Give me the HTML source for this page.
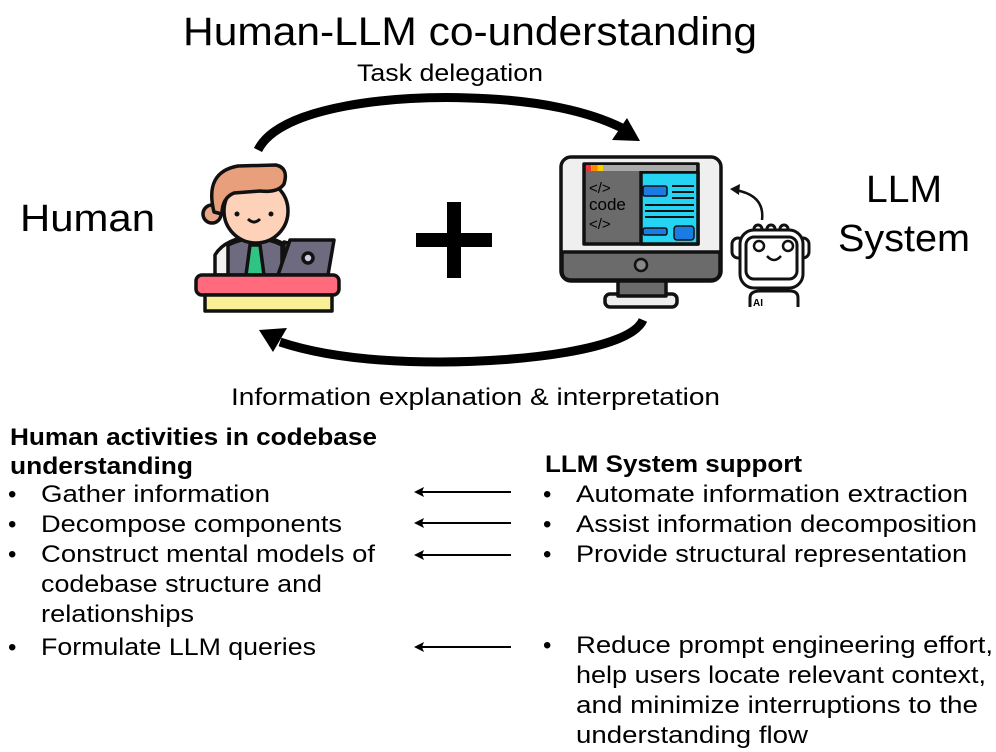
<!DOCTYPE html>
<html><head><meta charset="utf-8"><style>
html,body{margin:0;padding:0;background:#fff;width:996px;height:752px;overflow:hidden}
svg{display:block}
text{font-family:"Liberation Sans",sans-serif;fill:#000}
.b{font-weight:bold}
</style></head><body>
<svg width="996" height="752" viewBox="0 0 996 752" xmlns="http://www.w3.org/2000/svg">
<!-- titles -->
<text x="183" y="45" font-size="40" textLength="574" lengthAdjust="spacingAndGlyphs">Human-LLM co-understanding</text>
<text x="357" y="81" font-size="24" textLength="186" lengthAdjust="spacingAndGlyphs">Task delegation</text>
<text x="20" y="231" font-size="38" textLength="135" lengthAdjust="spacingAndGlyphs">Human</text>
<text x="866" y="202" font-size="38" textLength="76" lengthAdjust="spacingAndGlyphs">LLM</text>
<text x="838" y="251" font-size="38" textLength="132" lengthAdjust="spacingAndGlyphs">System</text>
<text x="231" y="405" font-size="24" textLength="489" lengthAdjust="spacingAndGlyphs">Information explanation &amp; interpretation</text>

<!-- curved arrows -->
<path d="M258,150 C280,105 400,95 470,98 C540,100 590,112 622,128" fill="none" stroke="#000" stroke-width="9"/>
<path d="M640,141 L612,140 L627,118 Z" fill="#000"/>
<path d="M643,320 C630,350 520,362 440,362 C360,362 310,352 280,342" fill="none" stroke="#000" stroke-width="9"/>
<path d="M259,330 L287,328 L273,352 Z" fill="#000"/>

<!-- plus -->
<rect x="416" y="233" width="76" height="14" fill="#000"/>
<rect x="447" y="202" width="14" height="76" fill="#000"/>

<!-- person -->
<g stroke="#111" stroke-width="3.5" stroke-linejoin="round">
<path d="M215,275 L215,255 Q225,238 255,236 Q285,238 293,255 L293,275 Z" fill="#f2f2f2"/>
<path d="M228,275 L228,245 Q255,232 282,245 L282,275 Z" fill="#6e6a80"/>
<path d="M250,245 L260,245 L264,275 L246,275 Z" fill="#2fc483"/>
<circle cx="212" cy="214" r="9" fill="#e8a98a"/>
<circle cx="256" cy="211" r="32" fill="#fdd2b8"/>
<path d="M214,212 Q204,172 238,166 L276,165 Q289,168 284,184 Q278,193 260,191 L234,193 Q222,198 222,214 Z" fill="#e8a07c"/>
<path d="M284,242 L292,244 L290,275 L282,275 Z" fill="#6e6a80"/>
<path d="M290,240 L334,240 L328,275 L278,275 Z" fill="#6e6a80"/>
<circle cx="308" cy="258" r="5" fill="#cfcbe0"/>
<rect x="196" y="275" width="143" height="20" rx="6" fill="#ff6b7d"/>
<rect x="205" y="295" width="127" height="16" fill="#f8ef96"/>
</g>
<circle cx="237" cy="214" r="2.5" fill="#111"/><circle cx="271" cy="214" r="2.5" fill="#111"/>
<path d="M248,219 Q254,225 260,219" fill="none" stroke="#111" stroke-width="3"/>

<!-- monitor -->
<g stroke="#111" stroke-width="3.5" stroke-linejoin="round">
<rect x="605" y="294" width="72" height="13" rx="5" fill="#eee"/>
<rect x="618" y="278" width="48" height="18" fill="#6b6b6b"/>
<rect x="561" y="157" width="160" height="124" rx="10" fill="#efefef"/>
<path d="M562,252 L720,252 L720,271 Q720,280 711,280 L571,280 Q562,280 562,271 Z" fill="#6b6b6b"/>
<rect x="584" y="164" width="114" height="80" fill="#6b6b6b"/>
<rect x="641" y="172" width="57" height="72" fill="#25d3f2"/>
</g>
<rect x="586" y="165" width="110" height="6" fill="#aaa"/>
<rect x="586" y="165" width="5" height="6" fill="#e33"/><rect x="592" y="165" width="5" height="6" fill="#f80"/><rect x="598" y="165" width="5" height="6" fill="#fc0"/>
<circle cx="641" cy="265" r="6" fill="#888" stroke="#111" stroke-width="2.5"/>
<text x="589" y="193" font-size="15" fill="#111">&lt;/&gt;</text>
<text x="589" y="210" font-size="17" fill="#111">code</text>
<text x="589" y="229" font-size="15" fill="#111">&lt;/&gt;</text>
<g fill="#1a7be0" stroke="#111" stroke-width="1.5">
<rect x="643" y="186" width="24" height="10" rx="2"/>
<rect x="674" y="226" width="20" height="14" rx="3"/>
<rect x="643" y="228" width="24" height="7" rx="2"/>
</g>
<g stroke="#111" stroke-width="2">
<line x1="672" y1="186" x2="694" y2="186"/><line x1="672" y1="192" x2="694" y2="192"/><line x1="672" y1="198" x2="694" y2="198"/>
<line x1="645" y1="205" x2="694" y2="205"/><line x1="645" y1="211" x2="694" y2="211"/><line x1="645" y1="217" x2="694" y2="217"/>
</g>

<!-- robot -->
<path d="M762,220 Q765,195 735,190" fill="none" stroke="#111" stroke-width="2.5"/>
<path d="M730,189 L740,184 L739,195 Z" fill="#111"/>
<g stroke="#111" stroke-width="3" fill="#fff">
<circle cx="758" cy="229" r="4"/><circle cx="771" cy="229" r="4"/><circle cx="784" cy="229" r="4"/>
<path d="M750,307 L750,298 Q750,291 760,291 L790,291 Q798,291 798,298 L798,307"/>
<rect x="732" y="238" width="12" height="20" rx="6"/>
<rect x="797" y="238" width="12" height="20" rx="6"/>
<rect x="740" y="230" width="63" height="58" rx="14"/>
<rect x="746" y="237" width="51" height="42" rx="8"/>
</g>
<circle cx="759" cy="246" r="5" fill="none" stroke="#111" stroke-width="2.5"/>
<circle cx="788" cy="246" r="5" fill="none" stroke="#111" stroke-width="2.5"/>
<path d="M767,256 Q774,264 781,256" fill="none" stroke="#111" stroke-width="2.5"/>
<text x="753" y="306" font-size="10" class="b">AI</text>

<!-- lower text -->
<g font-size="24">
<text x="10" y="445" class="b" textLength="367" lengthAdjust="spacingAndGlyphs">Human activities in codebase</text>
<text x="10" y="474" class="b" textLength="183" lengthAdjust="spacingAndGlyphs">understanding</text>
<text x="8" y="502">•</text><text x="41" y="502" textLength="229" lengthAdjust="spacingAndGlyphs">Gather information</text>
<text x="8" y="532">•</text><text x="41" y="532" textLength="301" lengthAdjust="spacingAndGlyphs">Decompose components</text>
<text x="8" y="562">•</text><text x="41" y="562" textLength="334" lengthAdjust="spacingAndGlyphs">Construct mental models of</text>
<text x="41" y="592" textLength="281" lengthAdjust="spacingAndGlyphs">codebase structure and</text>
<text x="41" y="622" textLength="153" lengthAdjust="spacingAndGlyphs">relationships</text>
<text x="8" y="655">•</text><text x="41" y="655" textLength="275" lengthAdjust="spacingAndGlyphs">Formulate LLM queries</text>

<text x="545" y="472" class="b" textLength="257" lengthAdjust="spacingAndGlyphs">LLM System support</text>
<text x="543" y="502">•</text><text x="576" y="502" textLength="392" lengthAdjust="spacingAndGlyphs">Automate information extraction</text>
<text x="543" y="532">•</text><text x="576" y="532" textLength="401" lengthAdjust="spacingAndGlyphs">Assist information decomposition</text>
<text x="543" y="562">•</text><text x="576" y="562" textLength="391" lengthAdjust="spacingAndGlyphs">Provide structural representation</text>
<text x="543" y="653">•</text><text x="576" y="653" textLength="417" lengthAdjust="spacingAndGlyphs">Reduce prompt engineering effort,</text>
<text x="576" y="683" textLength="410" lengthAdjust="spacingAndGlyphs">help users locate relevant context,</text>
<text x="576" y="713" textLength="402" lengthAdjust="spacingAndGlyphs">and minimize interruptions to the</text>
<text x="576" y="743" textLength="232" lengthAdjust="spacingAndGlyphs">understanding flow</text>
</g>

<!-- straight arrows -->
<g stroke="#000" stroke-width="2">
<line x1="511" y1="492" x2="420" y2="492"/>
<line x1="511" y1="523" x2="420" y2="523"/>
<line x1="511" y1="555" x2="420" y2="555"/>
<line x1="511" y1="647" x2="420" y2="647"/>
</g>
<g fill="#000">
<path d="M414,492 L424,487 L422,492 L424,497 Z"/>
<path d="M414,523 L424,518 L422,523 L424,528 Z"/>
<path d="M414,555 L424,550 L422,555 L424,560 Z"/>
<path d="M414,647 L424,642 L422,647 L424,652 Z"/>
</g>
</svg>
</body></html>
